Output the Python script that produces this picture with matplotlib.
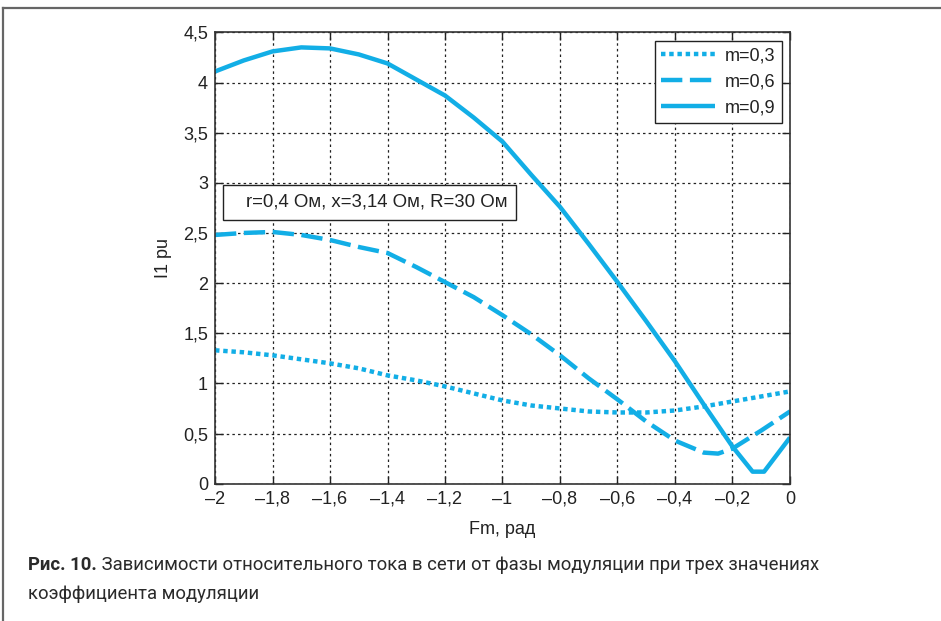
from matplotlib import pyplot as plt
from matplotlib.lines import Line2D
from matplotlib.patches import Rectangle

## Data (Fm in rad, I1 in pu)
x_03 = [-2.0, -1.9, -1.8, -1.7, -1.6, -1.5, -1.4, -1.3, -1.2, -1.1, -1.0,
        -0.9, -0.8, -0.7, -0.6, -0.5, -0.4, -0.3, -0.2, -0.1, 0.0]
y_03 = [1.33, 1.31, 1.28, 1.24, 1.20, 1.15, 1.08, 1.03, 0.97, 0.90, 0.83,
        0.78, 0.75, 0.72, 0.71, 0.71, 0.73, 0.77, 0.82, 0.87, 0.92]

x_06 = [-2.0, -1.9, -1.8, -1.7, -1.6, -1.5, -1.4, -1.3, -1.2, -1.1, -1.0,
        -0.9, -0.8, -0.7, -0.6, -0.5, -0.4, -0.3, -0.25, -0.2, -0.1, 0.0]
y_06 = [2.48, 2.50, 2.51, 2.48, 2.43, 2.36, 2.30, 2.16, 2.01, 1.86, 1.68,
        1.49, 1.28, 1.05, 0.84, 0.62, 0.43, 0.31, 0.30, 0.35, 0.53, 0.72]

x_09 = [-2.0, -1.9, -1.8, -1.7, -1.6, -1.5, -1.4, -1.3, -1.2, -1.1, -1.0,
        -0.9, -0.8, -0.7, -0.6, -0.5, -0.4, -0.3, -0.2, -0.13, -0.09, 0.0]
y_09 = [4.11, 4.22, 4.31, 4.35, 4.34, 4.28, 4.19, 4.03, 3.87, 3.65, 3.41,
        3.08, 2.76, 2.39, 2.01, 1.62, 1.22, 0.79, 0.37, 0.12, 0.12, 0.46]

series_labels = ["m=0,3", "m=0,6", "m=0,9"]

x_ticks = [-2, -1.8, -1.6, -1.4, -1.2, -1, -0.8, -0.6, -0.4, -0.2, 0]
x_tick_labels = ["\u20132", "\u20131,8", "\u20131,6", "\u20131,4", "\u20131,2", "\u20131",
                 "\u20130,8", "\u20130,6", "\u20130,4", "\u20130,2", "0"]
y_ticks = [0, 0.5, 1, 1.5, 2, 2.5, 3, 3.5, 4, 4.5]
y_tick_labels = ["0", "0,5", "1", "1,5", "2", "2,5", "3", "3,5", "4", "4,5"]

params_text = "r=0,4 Ом, x=3,14 Ом, R=30 Ом"
caption_bold = "Рис. 10."
caption_line1 = "Зависимости относительного тока в сети от фазы модуляции при трех значениях"
caption_line2 = "коэффициента модуляции"

#################################
## Figure
#################################
plt.rcParams['font.family'] = ['Liberation Sans', 'DejaVu Sans']
blue = '#12aee6'

fig = plt.figure(figsize=(9.41, 6.21), dpi=100)
ax = fig.add_axes([0.2285, 0.2211, 0.6110, 0.7268])

ax.plot(x_03, y_03, color=blue, lw=3.2, linestyle=(0, (1, 0.85)), dash_capstyle='butt', label=series_labels[0])
ax.plot(x_06, y_06, color=blue, lw=3.2, linestyle=(0, (4.8, 1.7)), dash_capstyle='butt', label=series_labels[1])
ax.plot(x_09, y_09, color=blue, lw=3.2, solid_capstyle='butt', label=series_labels[2])

ax.set_xlim(-2, 0)
ax.set_ylim(0, 4.5)
ax.set_xticks(x_ticks)
ax.set_xticklabels(x_tick_labels)
ax.set_yticks(y_ticks)
ax.set_yticklabels(y_tick_labels)
ax.tick_params(direction='in', length=6, width=1, top=True, right=True,
               labelsize=13, colors='#222222', pad=5)
ax.grid(True, color='#222222', lw=0.9, linestyle=(0, (2, 2.5)))
for sp in ax.spines.values():
    sp.set_color('#333333')
    sp.set_linewidth(1.2)

ax.set_xlabel('Fm, рад', fontsize=13, color='#222222')
ax.set_ylabel('I1 pu', fontsize=13, color='#222222')
ax.xaxis.set_label_coords(0.5, -0.082)
ax.yaxis.set_label_coords(-0.075, 0.5)

leg = ax.legend(loc='upper right', bbox_to_anchor=(0.986, 0.981), fontsize=13,
                handlelength=3.0, handletextpad=0.55, labelspacing=0.5,
                borderpad=0.35, borderaxespad=0, fancybox=False, framealpha=1)
leg.get_frame().set_edgecolor('#222222')
leg.get_frame().set_linewidth(1.0)
for t in leg.get_texts():
    t.set_color('#222222')

## parameters box
fig.patches.append(Rectangle((223 / 941, 1 - 220 / 621), 293 / 941, 35 / 621,
                             transform=fig.transFigure, fill=True, facecolor='white',
                             edgecolor='#222222', lw=1.0, zorder=5))
fig.text(508 / 941, 1 - 202 / 621, params_text, fontsize=13.4, color='#222222',
         ha='right', va='center', zorder=6)

## page frame (left and top edges)
fig.add_artist(Line2D([3 / 941, 3 / 941], [0, 1 - 8 / 621], transform=fig.transFigure,
                      color='#666666', lw=1.6))
fig.add_artist(Line2D([3 / 941, 1], [1 - 8 / 621, 1 - 8 / 621], transform=fig.transFigure,
                      color='#666666', lw=1.6))

## caption
cap_font = ['Liberation Sans Narrow', 'Roboto', 'DejaVu Sans']
tb = fig.text(28 / 941, 1 - 570 / 621, caption_bold, fontsize=13.3, fontweight='bold',
              color='#2a2a2a', family=cap_font, va='baseline')
ax.annotate(" " + caption_line1, xy=(1, 0), xycoords=tb, va='bottom', ha='left',
            fontsize=13.3, color='#2a2a2a', family=cap_font, annotation_clip=False)
fig.text(28 / 941, 1 - 599 / 621, caption_line2, fontsize=13.3, color='#2a2a2a',
         family=cap_font, va='baseline')

fig.savefig('out.png', dpi=100)
